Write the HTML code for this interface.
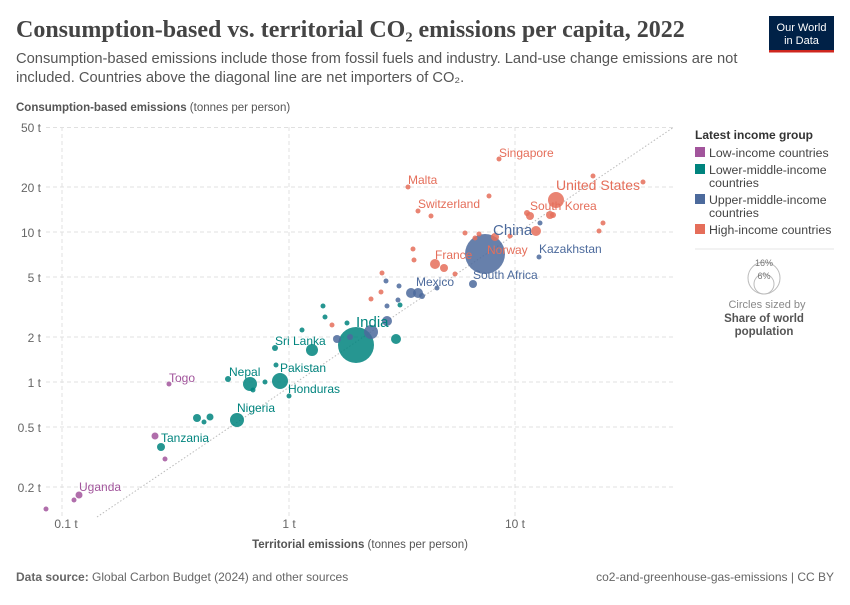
<!DOCTYPE html>
<html><head><meta charset="utf-8"><style>
body{margin:0;background:#fff;font-family:"Liberation Sans",sans-serif;}
</style></head><body>
<svg width="850" height="600" xmlns="http://www.w3.org/2000/svg" font-family="Liberation Sans, sans-serif">
<rect width="850" height="600" fill="#fff"/>
<text x="16" y="37" font-family="Liberation Serif, serif" font-size="24" font-weight="bold" fill="#444">Consumption-based vs. territorial CO₂ emissions per capita, 2022</text>
<text x="16" y="63" font-size="14.7" fill="#555">Consumption-based emissions include those from fossil fuels and industry. Land-use change emissions are not</text>
<text x="16" y="82" font-size="14.7" fill="#555">included. Countries above the diagonal line are net importers of CO₂.</text>
<rect x="769" y="16" width="65" height="34" fill="#002147"/>
<rect x="769" y="50" width="65" height="2.5" fill="#ce261e"/>
<text x="801.5" y="31" font-size="11" fill="#fff" text-anchor="middle">Our World</text>
<text x="801.5" y="44" font-size="11" fill="#fff" text-anchor="middle">in Data</text>
<text x="16" y="111" font-size="11.5" fill="#555"><tspan font-weight="bold">Consumption-based emissions</tspan> (tonnes per person)</text>
<g stroke="#e0e0e0" stroke-dasharray="4,3" stroke-width="1">
<line x1="46" x2="675" y1="127.5" y2="127.5"/><line x1="46" x2="675" y1="187" y2="187"/>
<line x1="46" x2="675" y1="232" y2="232"/><line x1="46" x2="675" y1="277" y2="277"/>
<line x1="46" x2="675" y1="337" y2="337"/><line x1="46" x2="675" y1="382" y2="382"/>
<line x1="46" x2="675" y1="427" y2="427"/><line x1="46" x2="675" y1="487" y2="487"/>
<line x1="62" x2="62" y1="127" y2="517"/><line x1="289" x2="289" y1="127" y2="517"/><line x1="515" x2="515" y1="127" y2="517"/>
</g>
<g font-size="12" fill="#666" text-anchor="end">
<text x="41" y="132">50 t</text><text x="41" y="192">20 t</text><text x="41" y="237">10 t</text><text x="41" y="282">5 t</text>
<text x="41" y="342">2 t</text><text x="41" y="387">1 t</text><text x="41" y="432">0.5 t</text><text x="41" y="492">0.2 t</text>
</g>
<g font-size="12" fill="#666" text-anchor="middle">
<text x="66" y="528">0.1 t</text><text x="289" y="528">1 t</text><text x="515" y="528">10 t</text>
</g>
<text x="360" y="548" font-size="11.5" fill="#555" text-anchor="middle"><tspan font-weight="bold">Territorial emissions</tspan> (tonnes per person)</text>
<line x1="97" y1="517" x2="674" y2="127" stroke="#bbb" stroke-dasharray="1.5,2" stroke-width="1"/>
<g fill-opacity="0.85">
<g fill="#a2559c">
<circle cx="46" cy="509" r="2.5"/><circle cx="74" cy="500" r="2.5"/><circle cx="79" cy="495" r="3.5"/>
<circle cx="155" cy="436" r="3.5"/><circle cx="165" cy="459" r="2.5"/><circle cx="169" cy="384" r="2.5"/>
</g>
<g fill="#00847e">
<circle cx="161" cy="447" r="4"/><circle cx="197" cy="418" r="4"/><circle cx="204" cy="422" r="2.5"/><circle cx="210" cy="417" r="3.5"/>
<circle cx="237" cy="420" r="7"/><circle cx="228" cy="379" r="3"/><circle cx="250" cy="384" r="7"/><circle cx="253" cy="390" r="2.5"/>
<circle cx="265" cy="382" r="2.5"/><circle cx="276" cy="365" r="2.5"/><circle cx="280" cy="381" r="8"/><circle cx="275" cy="348" r="3"/>
<circle cx="289" cy="396" r="2.5"/><circle cx="302" cy="330" r="2.5"/><circle cx="312" cy="350" r="6"/>
<circle cx="323" cy="306" r="2.5"/><circle cx="325" cy="317" r="2.5"/><circle cx="347" cy="323" r="2.5"/>
<circle cx="356" cy="345" r="18"/><circle cx="396" cy="339" r="5"/><circle cx="400" cy="305" r="2.5"/>
</g>
<g fill="#4c6a9c">
<circle cx="337" cy="339" r="4"/><circle cx="350" cy="337" r="3"/><circle cx="371" cy="332" r="7"/><circle cx="387" cy="321" r="5"/>
<circle cx="386" cy="281" r="2.5"/><circle cx="387" cy="306" r="2.5"/><circle cx="398" cy="300" r="2.5"/><circle cx="399" cy="286" r="2.5"/>
<circle cx="411" cy="293" r="5"/><circle cx="418" cy="293" r="5"/><circle cx="422" cy="296" r="3"/><circle cx="437" cy="288" r="2.5"/>
<circle cx="473" cy="284" r="4"/><circle cx="485" cy="254" r="20"/><circle cx="539" cy="257" r="2.5"/><circle cx="540" cy="223" r="2.5"/>
</g>
<g fill="#e56e5a">
<circle cx="332" cy="325" r="2.5"/><circle cx="371" cy="299" r="2.5"/><circle cx="381" cy="292" r="2.5"/><circle cx="382" cy="273" r="2.5"/>
<circle cx="408" cy="187" r="2.5"/><circle cx="418" cy="211" r="2.5"/><circle cx="431" cy="216" r="2.5"/><circle cx="413" cy="249" r="2.5"/>
<circle cx="414" cy="260" r="2.5"/><circle cx="435" cy="264" r="5"/><circle cx="444" cy="268" r="4"/><circle cx="455" cy="274" r="2.5"/>
<circle cx="465" cy="233" r="2.5"/><circle cx="475" cy="238" r="2.5"/><circle cx="479" cy="234" r="2.5"/><circle cx="489" cy="196" r="2.5"/>
<circle cx="499" cy="159" r="2.5"/><circle cx="495" cy="237" r="4"/><circle cx="510" cy="236" r="2.5"/><circle cx="527" cy="213" r="3"/>
<circle cx="530" cy="216" r="4"/><circle cx="536" cy="231" r="5"/><circle cx="550" cy="215" r="4"/><circle cx="553" cy="215" r="3"/>
<circle cx="556" cy="200" r="8"/><circle cx="593" cy="176" r="2.5"/><circle cx="643" cy="182" r="2.5"/><circle cx="603" cy="223" r="2.5"/><circle cx="599" cy="231" r="2.5"/>
</g>
</g>
<g font-size="12">
<g fill="#a2559c"><text x="169" y="382">Togo</text><text x="79" y="491">Uganda</text></g>
<g fill="#00847e"><text x="161" y="442">Tanzania</text><text x="237" y="412">Nigeria</text><text x="288" y="393">Honduras</text>
<text x="229" y="376">Nepal</text><text x="280" y="372">Pakistan</text><text x="275" y="345">Sri Lanka</text><text x="356" y="327" font-size="15">India</text></g>
<g fill="#4c6a9c"><text x="416" y="286">Mexico</text><text x="473" y="279">South Africa</text><text x="539" y="253">Kazakhstan</text><text x="493" y="235" font-size="15">China</text></g>
<g fill="#e56e5a"><text x="408" y="184">Malta</text><text x="418" y="208">Switzerland</text><text x="499" y="157">Singapore</text>
<text x="435" y="259">France</text><text x="487" y="254">Norway</text><text x="530" y="210">South Korea</text><text x="556" y="190" font-size="14">United States</text></g>
</g>
<text x="695" y="139" font-size="12" font-weight="bold" fill="#333">Latest income group</text>
<g font-size="12.3" fill="#444">
<rect x="695" y="147" width="10" height="10" fill="#a2559c"/><text x="709" y="157">Low-income countries</text>
<rect x="695" y="164" width="10" height="10" fill="#00847e"/><text x="709" y="174">Lower-middle-income</text><text x="709" y="187">countries</text>
<rect x="695" y="194" width="10" height="10" fill="#4c6a9c"/><text x="709" y="204">Upper-middle-income</text><text x="709" y="217">countries</text>
<rect x="695" y="224" width="10" height="10" fill="#e56e5a"/><text x="709" y="234">High-income countries</text>
</g>
<line x1="695" x2="834" y1="249" y2="249" stroke="#e5e5e5"/>
<circle cx="764" cy="278" r="16" fill="none" stroke="#bbb"/>
<circle cx="764" cy="284" r="10" fill="none" stroke="#bbb"/>
<text x="764" y="266" font-size="9" fill="#777" text-anchor="middle">16%</text>
<text x="764" y="279" font-size="9" fill="#777" text-anchor="middle">6%</text>
<text x="767" y="308" font-size="11" fill="#888" text-anchor="middle">Circles sized by</text>
<text x="764" y="322" font-size="11.5" font-weight="bold" fill="#555" text-anchor="middle">Share of world</text>
<text x="764" y="335" font-size="11.5" font-weight="bold" fill="#555" text-anchor="middle">population</text>
<text x="16" y="581" font-size="12" fill="#666"><tspan font-weight="bold">Data source:</tspan> Global Carbon Budget (2024) and other sources</text>
<text x="834" y="581" font-size="12" fill="#666" text-anchor="end">co2-and-greenhouse-gas-emissions | CC BY</text>
</svg>
</body></html>
